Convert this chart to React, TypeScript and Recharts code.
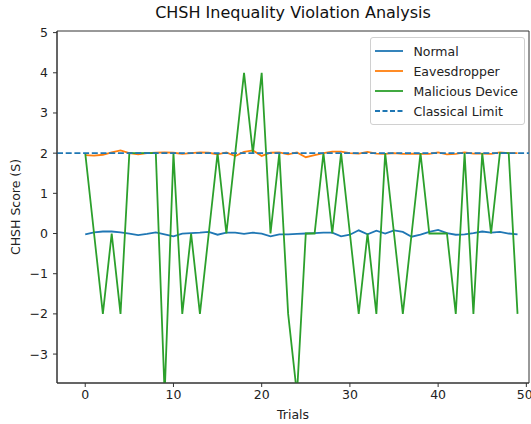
import React from 'react';
import {
  LineChart,
  Line,
  XAxis,
  YAxis,
  ReferenceLine,
  ReferenceArea,
} from 'recharts';

const trials = [
  0, 1, 2, 3, 4, 5, 6, 7, 8, 9, 10, 11, 12, 13, 14, 15, 16, 17, 18, 19, 20, 21, 22, 23, 24,
  25, 26, 27, 28, 29, 30, 31, 32, 33, 34, 35, 36, 37, 38, 39, 40, 41, 42, 43, 44, 45, 46, 47, 48, 49,
];

const normal = [
  -0.02, 0.03, 0.05, 0.05, 0.03, 0, -0.04, -0.01, 0.03, -0.02,
  -0.07, 0, 0.01, 0.02, 0.04, -0.03, 0.02, 0.02, -0.01, 0.02,
  0, -0.07, -0.02, -0.02, -0.01, 0, 0.01, 0.02, 0.02, -0.07,
  -0.03, 0.08, -0.02, 0.07, 0, 0.08, 0.04, -0.08, -0.03, 0.04,
  0.09, 0.01, -0.03, -0.02, 0.01, 0.05, 0.02, 0.04, 0, -0.02,
];

const eavesdropper = [
  1.95, 1.94, 1.96, 2.02, 2.07, 2.0, 1.97, 2.0, 2.01, 2.02,
  2.01, 1.98, 2.0, 2.02, 2.01, 1.97, 2.02, 1.93, 2.03, 2.07,
  1.93, 2.01, 2.02, 1.97, 2.02, 1.9, 1.95, 2.0, 2.04, 2.04,
  2.0, 1.99, 2.03, 1.99, 1.98, 2.0, 1.98, 1.99, 1.98, 1.98,
  2.02, 1.97, 1.98, 2.02, 1.99, 1.99, 1.98, 2.02, 2.0, 2.0,
];

const malicious = [
  2, 0, -2, 0, -2, 2, 2, 2, 2, -4,
  2, -2, 0, -2, 0, 2, 0, 2, 4, 2,
  4, 0, 2, -2, -4, 0, 0, 2, 0, 2,
  0, -2, 0, -2, 2, 0, -2, 0, 2, 0,
  0, 0, -2, 2, -2, 2, 0, 2, 2, -2,
];

const classicalLimit = 2;
const xTicks = [0, 10, 20, 30, 40, 50];
const yTicks = [-3, -2, -1, 0, 1, 2, 3, 4, 5];
const xDomain = [-3.2, 50.3];
const yDomain = [-3.72, 5.04];

const data = trials.map((t, i) => ({
  trial: t,
  normal: normal[i],
  eavesdropper: eavesdropper[i],
  malicious: malicious[i],
}));

const FONT = 'DejaVu Sans, sans-serif';
const fmt = (v: number) => String(v).replace('-', '\u2212');

const legendItems = [
  { name: 'Normal', color: '#1f77b4', dash: undefined as string | undefined },
  { name: 'Eavesdropper', color: '#ff7f0e', dash: undefined },
  { name: 'Malicious Device', color: '#2ca02c', dash: undefined },
  { name: 'Classical Limit', color: '#1f77b4', dash: '5 2.5' },
];

const LegendBox = () => (
  <div
    style={{
      position: 'absolute',
      right: 6,
      top: 37,
      border: '1px solid #d0d0d0',
      borderRadius: 3,
      background: 'rgba(255,255,255,0.8)',
      padding: '3px 6px 3px 4px',
      fontFamily: FONT,
      fontSize: 12.5,
      color: '#222',
    }}
  >
    {legendItems.map((it) => (
      <div key={it.name} style={{ display: 'flex', alignItems: 'center', height: 20 }}>
        <svg width={28} height={10} style={{ marginRight: 10 }}>
          <line x1={0} y1={5} x2={28} y2={5} stroke={it.color} strokeWidth={1.8} strokeDasharray={it.dash} />
        </svg>
        <span>{it.name}</span>
      </div>
    ))}
  </div>
);

export default function App() {
  return (
    <div style={{ position: 'absolute', left: 0, top: 0, width: 531, height: 424, background: '#fff' }}>
      <div
        style={{
          position: 'absolute',
          left: 57,
          width: 472,
          top: 3,
          textAlign: 'center',
          fontFamily: FONT,
          fontSize: 16,
          color: '#111',
        }}
      >
        CHSH Inequality Violation Analysis
      </div>
      <LineChart
        width={531}
        height={424}
        data={data}
        margin={{ top: 31, right: 2, left: 0, bottom: 0 }}
        style={{ fontFamily: FONT }}
      >
        <XAxis
          dataKey="trial"
          type="number"
          domain={xDomain}
          ticks={xTicks}
          allowDataOverflow
          height={41}
          tickSize={4}
          tickMargin={3}
          stroke="#333"
          tick={{ fill: '#222', fontSize: 12.5 }}
          tickFormatter={fmt}
          label={{ value: 'Trials', position: 'insideBottom', offset: 5, fill: '#222', fontSize: 12.5 }}
        />
        <YAxis
          type="number"
          domain={yDomain}
          ticks={yTicks}
          allowDataOverflow
          width={57}
          tickSize={4}
          tickMargin={5}
          stroke="#333"
          tick={{ fill: '#222', fontSize: 12.5 }}
          tickFormatter={fmt}
          label={{
            value: 'CHSH Score (S)',
            angle: -90,
            position: 'insideLeft',
            offset: 16,
            fill: '#222',
            fontSize: 12.5,
            style: { textAnchor: 'middle' },
          }}
        />
        <ReferenceArea
          x1={xDomain[0]}
          x2={xDomain[1]}
          y1={yDomain[0]}
          y2={yDomain[1]}
          fill="none"
          stroke="#333"
          strokeWidth={1}
        />
        <Line dataKey="normal" name="Normal" stroke="#1f77b4" strokeWidth={1.8} dot={false} isAnimationActive={false} />
        <Line dataKey="eavesdropper" name="Eavesdropper" stroke="#ff7f0e" strokeWidth={1.8} dot={false} isAnimationActive={false} />
        <Line dataKey="malicious" name="Malicious Device" stroke="#2ca02c" strokeWidth={1.8} dot={false} isAnimationActive={false} />
        <ReferenceLine y={classicalLimit} stroke="#1f77b4" strokeWidth={1.8} strokeDasharray="6 2.7" />
      </LineChart>
      <LegendBox />
    </div>
  );
}
